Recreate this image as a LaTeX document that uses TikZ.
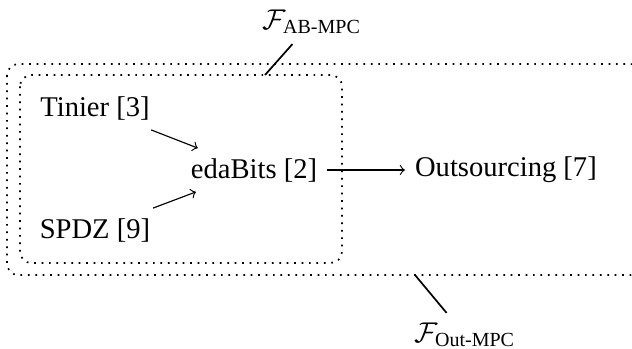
\documentclass[tikz,border=0pt]{standalone}
\usepackage{fontspec}
\setmainfont{Liberation Serif}
\usepackage{amsmath}

\begin{document}
\begin{tikzpicture}[x=0.35pt, y=-0.35pt, protnode/.style={inner sep=3.33pt}, groupbox/.style={dotted, semithick, rounded corners=4pt}, pinline/.style={semithick}]
\clip (0,0) rectangle (632,348);
% groups
\draw[groupbox] (7,64) rectangle (642,275);
\draw[groupbox] (20,75) rectangle (342,263);
\coordinate (abtop) at (265,75);
\coordinate (outbottom) at (415,275);
% protocols
\node[protnode] at (95,108) (tinier) {Tinier [3]};
\node[protnode] at (95,230) (spdz) {SPDZ [9]};
\node[protnode] at (254,170) (edabits) {edaBits [2]};
\node[protnode, anchor=west] at (405,170) (outsourcing) {Outsourcing [7]};
% functionalities
\node at (312,22) (ablabel) {$\mathcal{F}_{\textrm{AB-MPC}}$};
\node at (465,335) (outlabel) {$\mathcal{F}_{\textrm{Out-MPC}}$};
\draw[->] (tinier) -- (edabits);
\draw[->] (spdz) -- (edabits);
\draw[->] (edabits) -- (outsourcing);
\draw[pinline] (ablabel) -- (abtop);
\draw[pinline] (outlabel) -- (outbottom);
\end{tikzpicture}
\end{document}
